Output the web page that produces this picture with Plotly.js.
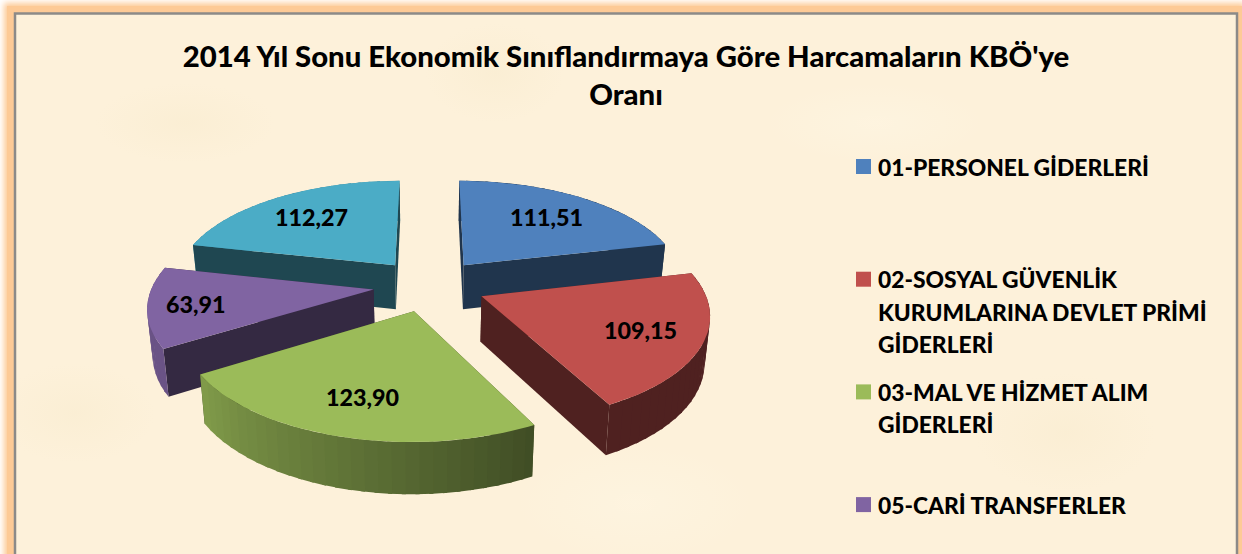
<!DOCTYPE html>
<html>
<head>
<meta charset="utf-8">
<script src="https://cdn.plot.ly/plotly-3.0.1.min.js"></script>
<style>
html,body{margin:0;padding:0;width:1242px;height:554px;overflow:hidden;background:#fff}
#glow{position:absolute;left:7px;top:6px;width:1235px;height:560px;background:#fdca96;box-shadow:0 0 6px 3px #fdca96}
#paper{position:absolute;left:15px;top:13px;width:1222px;height:560px;
background:
radial-gradient(ellipse 90px 40px at 170px 110px,rgba(240,225,185,.18),transparent),
radial-gradient(ellipse 70px 50px at 480px 60px,rgba(240,225,185,.18),transparent),
radial-gradient(ellipse 110px 40px at 860px 110px,rgba(255,250,235,.3),transparent),
radial-gradient(ellipse 90px 60px at 1050px 420px,rgba(240,225,185,.18),transparent),
radial-gradient(ellipse 120px 60px at 620px 490px,rgba(255,250,235,.3),transparent),
radial-gradient(ellipse 80px 50px at 60px 400px,rgba(240,225,185,.18),transparent),
#fdf1da}
#chart{position:absolute;left:0;top:0;width:1242px;height:554px}
</style>
</head>
<body>
<div id="glow"></div><div id="paper"></div><div id="chart"></div>
<script>
// ---- data ----
const sliceValues = [111.51, 109.15, 123.90, 63.91, 112.27];
const sliceColors = ['#4f81bd', '#c0504d', '#9bbb59', '#8064a2', '#4bacc6'];
const legendLabels = [
  ['01-PERSONEL GİDERLERİ'],
  ['02-SOSYAL GÜVENLİK', 'KURUMLARINA DEVLET PRİMİ', 'GİDERLERİ'],
  ['03-MAL VE HİZMET ALIM', 'GİDERLERİ'],
  ['05-CARİ TRANSFERLER']
];
const titleText = "2014 Yıl Sonu Ekonomik Sınıflandırmaya Göre Harcamaların KBÖ'ye<br>Oranı";

// ---- pie projection (perspective view of an exploded 3-D pie) ----
const view = {cx: 429.5, cy: 285, A: 221, B: 102.5, k: 0.15, explode: 0.255, depth: 45, floor: 1.02};
const labelRadius = [0.69, 0.73, 0.72, 0.79, 0.69];
const FONT = 'Lato, "Noto Sans", sans-serif';

function project(u, v, bottom) {
  const w = 1 - view.k * v;
  let x = view.A * u / w, y = view.B * v / w;
  if (bottom) { x /= view.floor; y = y / view.floor + view.depth / w; }
  return [view.cx + x, view.cy + y];
}
function hex(c, f) {
  const n = parseInt(c.slice(1), 16);
  return 'rgb(' + [(n >> 16) & 255, (n >> 8) & 255, n & 255].map(q => Math.round(q * f)).join(',') + ')';
}
function rimShade(deg) {
  if (deg <= 153) return 0.41;
  if (deg >= 238) return 0.83;
  return 0.41 + (deg - 153) / 85 * 0.42;
}
const rad = d => d * Math.PI / 180;
const total = sliceValues.reduce((a, b) => a + b, 0);
function poly(pts, color, name) {
  const p = pts.concat([pts[0]]);
  return {type: 'scatter', mode: 'lines', x: p.map(q => q[0]), y: p.map(q => q[1]), fill: 'toself',
    fillcolor: color, line: {color: color, width: 0}, hoverinfo: 'skip', showlegend: false, name: name || ''};
}

let start = 0;
const slices = sliceValues.map((val, i) => {
  const sweep = val / total * 360, mid = start + sweep / 2;
  const s = {i, val, from: start, to: start + sweep, mid,
    ou: view.explode * Math.sin(rad(mid)), ov: -view.explode * Math.cos(rad(mid))};
  start += sweep;
  return s;
});
const rimPoint = (s, deg, r) => [s.ou + r * Math.sin(rad(deg)), s.ov - r * Math.cos(rad(deg))];

const paintOrder = [4, 0, 3, 1, 2];
const traces = [];
const annotations = [];
paintOrder.forEach(idx => {
  const s = slices[idx], col = sliceColors[idx];
  const n = Math.max(2, Math.ceil((s.to - s.from) / 3));
  const dAng = (s.to - s.from) / n;
  const strips = [];
  for (let j = 0; j < n; j++) strips.push(s.from + j * dAng);
  // each strip reaches a little under its neighbour so no seam shows
  const strip = a => {
    const b = Math.min(a + dAng * 1.0, s.to), a0 = Math.max(a - dAng * 0.3, s.from);
    const pa = rimPoint(s, a0, 1), pb = rimPoint(s, b, 1);
    return poly([project(pa[0], pa[1]), project(pb[0], pb[1]), project(pb[0], pb[1], true), project(pa[0], pa[1], true)],
      hex(col, rimShade(a + dAng / 2)));
  };
  const facing = a => Math.cos(rad(a + dAng / 2)) < 0;
  // rim facing away, then radial walls, then rim facing the viewer
  strips.filter(a => !facing(a)).forEach(a => traces.push(strip(a)));
  const e1 = rimPoint(s, s.from, 1), e2 = rimPoint(s, s.to, 1);
  [e1, e2].sort((p, q) => p[1] - q[1]).forEach(e => {
    traces.push(poly([project(s.ou, s.ov), project(e[0], e[1]), project(e[0], e[1], true), project(s.ou, s.ov, true)], hex(col, 0.41)));
  });
  strips.filter(facing).forEach(a => traces.push(strip(a)));
  // top face
  const top = [project(s.ou, s.ov)];
  for (let j = 0; j <= n * 2; j++) {
    const p = rimPoint(s, s.from + j * dAng / 2, 1);
    top.push(project(p[0], p[1]));
  }
  traces.push(poly(top, col, s.val.toFixed(2)));
  // value label
  const lp = rimPoint(s, s.mid, labelRadius[idx]);
  const xy = project(lp[0], lp[1]);
  annotations.push({x: xy[0], y: xy[1], xref: 'x', yref: 'y', showarrow: false,
    text: s.val.toFixed(2).replace('.', ','), font: {family: FONT, size: 23.3, color: '#000', weight: 900}});
});

// ---- legend ----
const legendLayout = {swatchX: 863.5, textX: 876, firstY: 166.5, pitch: 112.7, linePitch: 32.5, swatch: 15};
traces.push({type: 'scatter', mode: 'markers', hoverinfo: 'skip', showlegend: false,
  x: legendLabels.map(() => legendLayout.swatchX),
  y: legendLabels.map((_, i) => legendLayout.firstY + i * legendLayout.pitch),
  marker: {symbol: 'square', size: legendLayout.swatch, color: sliceColors.slice(0, legendLabels.length), line: {width: 0}}});
legendLabels.forEach((lines, i) => lines.forEach((t, j) => {
  annotations.push({x: legendLayout.textX, y: legendLayout.firstY + i * legendLayout.pitch + j * legendLayout.linePitch,
    xref: 'x', yref: 'y', xanchor: 'left', showarrow: false, text: t,
    font: {family: FONT, size: 22.8, color: '#000', weight: 900}});
}));

const layout = {
  width: 1242, height: 554, autosize: false,
  margin: {l: 0, r: 0, t: 0, b: 0, pad: 0},
  paper_bgcolor: 'rgba(0,0,0,0)', plot_bgcolor: 'rgba(0,0,0,0)',
  showlegend: false,
  title: {text: titleText, x: 626 / 1242, xanchor: 'center', y: 1 - 66.5 / 554, yanchor: 'middle',
    font: {family: FONT, size: 29.3, color: '#000', weight: 900}},
  xaxis: {range: [0, 1242], visible: false, fixedrange: true},
  yaxis: {range: [554, 0], visible: false, fixedrange: true},
  annotations: annotations,
  shapes: [{type: 'rect', xref: 'x', yref: 'y', x0: 15, y0: 13.5, x1: 1237, y1: 600, layer: 'below',
    line: {color: '#8c8a88', width: 2.5}, fillcolor: 'rgba(0,0,0,0)'}]
};
Plotly.newPlot('chart', traces, layout, {displayModeBar: false, staticPlot: true});
</script>
</body>
</html>
